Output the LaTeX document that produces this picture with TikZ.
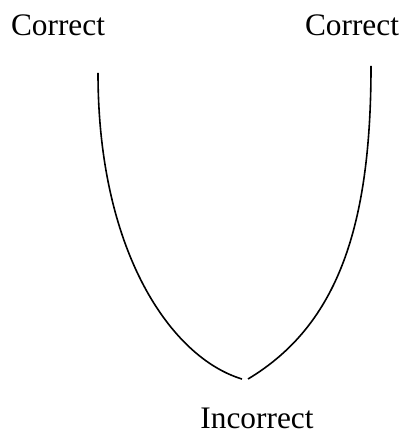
\documentclass[tikz,border=0pt]{standalone}
\usepackage{fontspec}
\setmainfont{Liberation Serif}

\begin{document}
\begin{tikzpicture}[x=0.75pt,y=-0.75pt,
    lbl/.style={font=\fontsize{23.5}{28}\selectfont, inner sep=0pt},
    branch/.style={line width=1.2pt}]
    \useasboundingbox (0,0) rectangle (406,434);
    \node[lbl] (cl) at (58,25.5) {Correct};
    \node[lbl] (cr) at (352,25.5) {Correct};
    \node[lbl] (inc) at (257,418.5) {Incorrect};
    \coordinate (lt) at (98,73); \coordinate (lb) at (242,379);
    \coordinate (rt) at (371,66); \coordinate (rb) at (248,379);
    \draw[branch] (lt) .. controls (98,253) and (172,358) .. (lb);
    \draw[branch] (rb) .. controls (338,325) and (371,226) .. (rt);
  \end{tikzpicture}
\end{document}
